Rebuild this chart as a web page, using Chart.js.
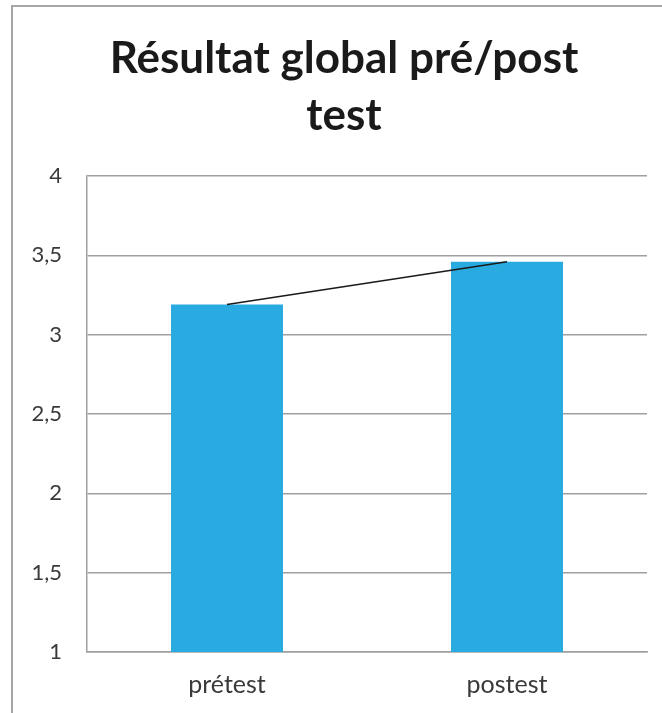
<!DOCTYPE html>
<html>
<head>
<meta charset="utf-8">
<script src="https://cdn.jsdelivr.net/npm/chart.js@4"></script>
<style>
  html, body { margin: 0; padding: 0; background: #fff; }
  #wrap { position: relative; width: 662px; height: 713px; overflow: hidden; }
  #frame { position: absolute; left: 11px; top: 5px; right: -10px; bottom: -10px;
           border-left: 2px solid #a6a6a6; border-top: 2px solid #a6a6a6; }
  canvas { position: absolute; left: 0; top: 0; }
</style>
</head>
<body>
<div id="wrap">
  <div id="frame"></div>
  <canvas id="c" width="662" height="713"></canvas>
</div>
<script>
const titleLines = ['Résultat global pré/post', 'test'];
const categories = ['prétest', 'postest'];
const scores = [3.19, 3.46];
const trend = [3.19, 3.46];
const yMin = 1, yMax = 4, yStep = 0.5;

const FONT = "Lato, 'Open Sans', sans-serif";

// shift the title box so it is centred like the reference
const titleShift = {
  id: 'titleShift',
  afterLayout(chart) {
    if (chart.titleBlock) { chart.titleBlock.left = 41; }
  }
};

new Chart(document.getElementById('c'), {
  data: {
    labels: categories,
    datasets: [
      {
        type: 'line',
        data: trend,
        borderColor: '#1a1a1a',
        borderWidth: 1.5,
        pointRadius: 0,
        fill: false,
        order: 0
      },
      {
        type: 'bar',
        data: scores,
        backgroundColor: '#29abe2',
        barPercentage: 0.4,
        categoryPercentage: 1.0,
        order: 1
      }
    ]
  },
  plugins: [titleShift],
  options: {
    responsive: false,
    animation: false,
    layout: { padding: { left: 22, right: 15, top: 6, bottom: 0 } },
    plugins: {
      legend: { display: false },
      tooltip: { enabled: false },
      title: {
        display: true,
        text: titleLines,
        color: '#1a1a1a',
        font: { family: FONT, size: 44, weight: 'bold', lineHeight: 57 / 44 },
        padding: { top: 24, bottom: 32 }
      }
    },
    scales: {
      x: {
        grid: { display: false, drawTicks: false },
        border: { display: true, color: '#a0a0a0', width: 1.5 },
        ticks: { color: '#3a3a3a', font: { family: FONT, size: 25 }, padding: 18 },
        afterFit: (s) => { s.height = 61; }
      },
      y: {
        min: yMin,
        max: yMax,
        ticks: {
          stepSize: yStep,
          color: '#3a3a3a',
          font: { family: FONT, size: 22 },
          padding: 25,
          callback: (v) => String(v).replace('.', ',')
        },
        grid: { color: '#a0a0a0', lineWidth: 1.5, drawTicks: false },
        border: { display: true, color: '#a0a0a0', width: 1.5 },
        afterFit: (s) => { s.width = 65; }
      }
    }
  }
});
</script>
</body>
</html>
